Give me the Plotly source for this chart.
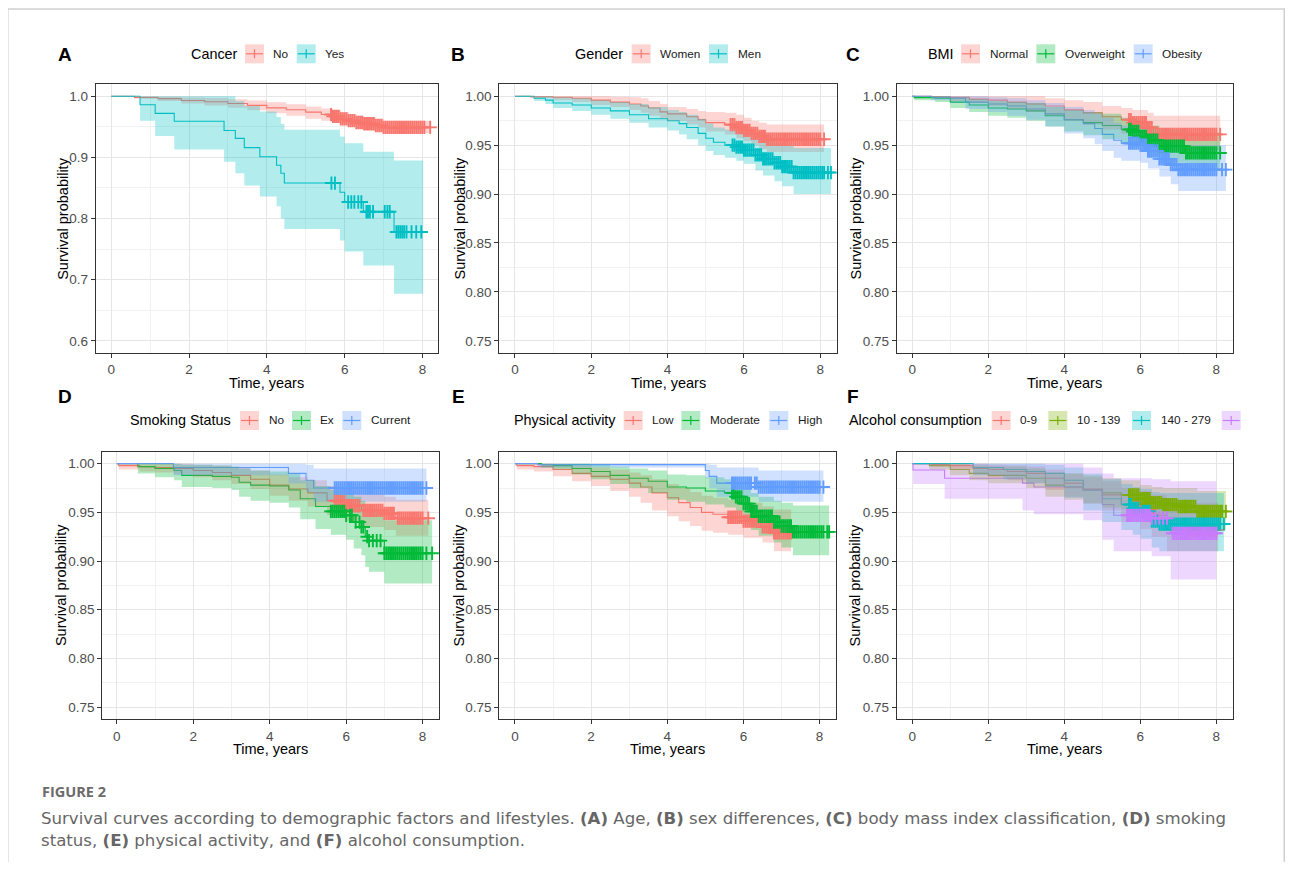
import plotly.graph_objects as go

W, H = 1293, 870          # browser window
OFF = 8                   # default page (body) margin around the figure
FW, FH = W - 2 * OFF, H - 2 * OFF

# ---------------- colours ----------------
RED, CYAN, GREEN, BLUE, OLIVE, PURPLE = "#F8766D", "#00BFC4", "#00BA38", "#619CFF", "#7CAE00", "#C77CFF"

# ---------------- tick labels ----------------
x_ticks = [0, 2, 4, 6, 8]
x_minor = [1, 3, 5, 7]
y_ticks_a = [0.6, 0.7, 0.8, 0.9, 1.0]
y_minor_a = [0.65, 0.75, 0.85, 0.95]
y_ticks = [0.75, 0.80, 0.85, 0.90, 0.95, 1.00]
y_minor = [0.775, 0.825, 0.875, 0.925, 0.975]

# ================= Panel A : Cancer =================
a_no_t  = [0, 0.6, 1.2, 1.8, 2.4, 3.0, 3.5, 4.0, 4.5, 5.0, 5.4, 5.7, 5.9, 6.1, 6.3, 6.5, 6.8, 7.0, 8.2]
a_no_s  = [1, 0.998, 0.996, 0.993, 0.991, 0.988, 0.985, 0.981, 0.978, 0.974, 0.970, 0.967, 0.963, 0.960, 0.957, 0.955, 0.952, 0.949, 0.949]
a_no_hi = [1, 1.0, 0.999, 0.998, 0.997, 0.995, 0.993, 0.990, 0.987, 0.983, 0.980, 0.977, 0.974, 0.971, 0.968, 0.966, 0.964, 0.960, 0.960]
a_no_lo = [1, 0.996, 0.992, 0.988, 0.985, 0.981, 0.977, 0.972, 0.968, 0.963, 0.960, 0.957, 0.953, 0.950, 0.947, 0.945, 0.942, 0.940, 0.940]
a_no_c  = [5.65, 5.7, 5.75, 5.8, 5.85, 5.9, 5.95, 6.0, 6.05, 6.1, 6.15, 6.2, 6.25, 6.3, 6.35, 6.4, 6.45, 6.5, 6.55, 6.6,
           6.65, 6.7, 6.75, 6.8, 6.85, 6.9, 6.95, 7.0, 7.05, 7.1, 7.15, 7.2, 7.25, 7.3, 7.35, 7.4, 7.45, 7.5, 7.55, 7.6,
           7.65, 7.7, 7.75, 7.8, 7.85, 7.9, 7.95, 8.0, 8.05, 8.2]

a_yes_t  = [0, 0.74, 1.13, 1.62, 2.90, 3.19, 3.42, 3.82, 4.25, 4.36, 4.45, 5.88, 6.00, 6.48, 7.27, 8.02]
a_yes_s  = [1, 0.986, 0.972, 0.959, 0.944, 0.931, 0.916, 0.901, 0.887, 0.874, 0.858, 0.843, 0.827, 0.811, 0.778, 0.778]
a_yes_hi = [1, 1.0, 1.0, 1.0, 1.0, 0.992, 0.984, 0.975, 0.966, 0.955, 0.945, 0.934, 0.923, 0.909, 0.895, 0.895]
a_yes_lo = [1, 0.960, 0.935, 0.913, 0.893, 0.874, 0.854, 0.836, 0.820, 0.800, 0.783, 0.764, 0.746, 0.723, 0.677, 0.677]
a_yes_c  = [5.66, 5.75, 6.09, 6.17, 6.25, 6.35, 6.43, 6.56, 6.6, 6.65, 6.73, 7.03, 7.1, 7.16, 7.33, 7.38, 7.43,
            7.48, 7.53, 7.59, 7.72, 7.84, 7.97]

# ================= Panel B : Gender =================
b_w_t  = [0, 0.4, 1.0, 1.5, 2.0, 2.5, 3.0, 3.3, 3.5, 3.8, 4.0, 4.5, 4.8, 5.0, 5.5, 5.8, 6.0, 6.2, 6.4, 6.6, 8.1]
b_w_s  = [1, 0.9995, 0.999, 0.998, 0.996, 0.994, 0.992, 0.990, 0.988, 0.984, 0.982, 0.979, 0.976, 0.973, 0.971, 0.968, 0.965, 0.962, 0.959, 0.956, 0.956]
b_w_hi = [1, 1, 1, 1, 1, 0.9995, 0.999, 0.998, 0.995, 0.992, 0.989, 0.987, 0.985, 0.984, 0.983, 0.981, 0.978, 0.975, 0.973, 0.971, 0.971]
b_w_lo = [1, 0.998, 0.996, 0.994, 0.991, 0.989, 0.986, 0.983, 0.980, 0.977, 0.975, 0.971, 0.968, 0.964, 0.961, 0.957, 0.954, 0.950, 0.946, 0.943, 0.943]
b_w_c  = [5.65, 5.7, 5.75, 5.8, 5.85, 5.9, 5.95, 6.0, 6.05, 6.1, 6.15, 6.2, 6.25, 6.3, 6.35, 6.4, 6.45, 6.5, 6.55, 6.6,
          6.65, 6.7, 6.75, 6.8, 6.85, 6.9, 6.95, 7.0, 7.05, 7.1, 7.15, 7.2, 7.25, 7.3, 7.35, 7.4, 7.45, 7.5, 7.55, 7.6,
          7.65, 7.7, 7.75, 7.8, 7.85, 7.9, 7.95, 8.0, 8.1]

b_m_t  = [0, 0.5, 0.8, 1.0, 1.5, 2.0, 2.5, 3.0, 3.5, 4.0, 4.3, 4.5, 4.8, 5.0, 5.2, 5.5, 5.8, 6.0, 6.3, 6.5, 6.8, 7.0, 7.3, 8.28]
b_m_s  = [1, 0.998, 0.996, 0.993, 0.991, 0.988, 0.985, 0.981, 0.977, 0.975, 0.972, 0.968, 0.962, 0.957, 0.953, 0.950, 0.948, 0.945, 0.940, 0.936, 0.932, 0.928, 0.922, 0.922]
b_m_hi = [1, 1, 1, 0.999, 0.998, 0.996, 0.994, 0.992, 0.989, 0.986, 0.984, 0.981, 0.977, 0.972, 0.968, 0.966, 0.964, 0.962, 0.958, 0.955, 0.952, 0.950, 0.947, 0.947]
b_m_lo = [1, 0.995, 0.992, 0.988, 0.985, 0.981, 0.977, 0.973, 0.968, 0.965, 0.961, 0.956, 0.950, 0.944, 0.940, 0.937, 0.934, 0.931, 0.924, 0.919, 0.913, 0.908, 0.900, 0.900]
b_m_c  = [5.7, 5.75, 5.8, 5.85, 5.9, 5.95, 6.0, 6.05, 6.1, 6.15, 6.2, 6.25, 6.3, 6.35, 6.4, 6.45, 6.5, 6.55, 6.6,
          6.65, 6.7, 6.75, 6.8, 6.85, 6.9, 6.95, 7.0, 7.05, 7.1, 7.15, 7.2, 7.25, 7.3, 7.35, 7.4, 7.45, 7.5, 7.55, 7.6,
          7.65, 7.7, 7.75, 7.8, 7.85, 7.9, 7.95, 8.0, 8.05, 8.1, 8.2, 8.28]

# ================= Panel C : BMI =================
c_n_t  = [0, 0.5, 1.0, 1.5, 2.0, 2.5, 3.0, 3.5, 4.0, 4.5, 5.0, 5.5, 5.8, 6.2, 6.35, 8.1]
c_n_s  = [1, 0.9995, 0.999, 0.997, 0.996, 0.994, 0.992, 0.990, 0.986, 0.983, 0.979, 0.976, 0.973, 0.968, 0.961, 0.961]
c_n_hi = [1, 1, 1, 1, 1, 1, 1, 0.998, 0.996, 0.994, 0.990, 0.988, 0.986, 0.983, 0.980, 0.980]
c_n_lo = [1, 0.998, 0.995, 0.993, 0.990, 0.987, 0.984, 0.980, 0.975, 0.971, 0.966, 0.962, 0.958, 0.952, 0.945, 0.945]
c_n_c  = [5.7, 5.75, 5.8, 5.85, 5.9, 5.95, 6.0, 6.05, 6.1, 6.15, 6.2, 6.25, 6.3, 6.4, 6.45, 6.5, 6.55, 6.6,
          6.65, 6.7, 6.75, 6.8, 6.85, 6.9, 6.95, 7.0, 7.05, 7.1, 7.15, 7.2, 7.25, 7.3, 7.35, 7.4, 7.45, 7.5, 7.55, 7.6,
          7.65, 7.7, 7.75, 7.8, 7.85, 7.9, 7.95, 8.0, 8.1]

c_o_t  = [0, 0.05, 0.6, 1.0, 1.5, 2.0, 2.5, 3.0, 3.5, 4.0, 4.5, 5.0, 5.5, 5.8, 6.0, 6.2, 6.5, 7.2, 8.1]
c_o_s  = [1, 0.9986, 0.998, 0.994, 0.991, 0.988, 0.987, 0.985, 0.980, 0.976, 0.973, 0.970, 0.966, 0.964, 0.959, 0.955, 0.949, 0.942, 0.942]
c_o_hi = [1, 1, 1, 0.999, 0.997, 0.995, 0.994, 0.993, 0.989, 0.986, 0.984, 0.982, 0.978, 0.976, 0.973, 0.970, 0.966, 0.963, 0.963]
c_o_lo = [1, 0.996, 0.994, 0.988, 0.984, 0.980, 0.978, 0.975, 0.969, 0.964, 0.960, 0.956, 0.951, 0.948, 0.943, 0.938, 0.932, 0.925, 0.925]
c_o_c  = [5.7, 5.75, 5.8, 5.85, 5.9, 5.95, 6.0, 6.05, 6.1, 6.15, 6.2, 6.25, 6.3, 6.35, 6.4, 6.45, 6.5, 6.55, 6.6,
          6.65, 6.7, 6.75, 6.8, 6.85, 6.9, 6.95, 7.0, 7.05, 7.1, 7.15, 7.2, 7.25, 7.3, 7.35, 7.4, 7.45, 7.5, 7.55, 7.6,
          7.65, 7.7, 7.75, 7.8, 7.85, 7.9, 7.95, 8.0, 8.1]

c_b_t  = [0, 0.5, 1.0, 1.4, 2.0, 2.5, 3.0, 3.5, 4.0, 4.5, 4.8, 5.0, 5.3, 5.5, 6.0, 6.2, 6.5, 6.8, 7.0, 8.25]
c_b_s  = [1, 0.999, 0.998, 0.994, 0.992, 0.990, 0.987, 0.982, 0.976, 0.972, 0.967, 0.961, 0.955, 0.952, 0.950, 0.944, 0.936, 0.930, 0.925, 0.925]
c_b_hi = [1, 1, 1, 1, 0.999, 0.998, 0.996, 0.993, 0.989, 0.986, 0.982, 0.978, 0.973, 0.970, 0.968, 0.963, 0.957, 0.953, 0.950, 0.950]
c_b_lo = [1, 0.996, 0.993, 0.987, 0.984, 0.980, 0.976, 0.969, 0.962, 0.957, 0.951, 0.944, 0.937, 0.934, 0.932, 0.926, 0.918, 0.910, 0.903, 0.903]
c_b_c  = [5.7, 5.75, 5.8, 5.85, 5.9, 5.95, 6.0, 6.05, 6.1, 6.15, 6.2, 6.25, 6.3, 6.35, 6.4, 6.45, 6.5, 6.55, 6.6,
          6.65, 6.7, 6.75, 6.8, 6.85, 6.9, 6.95, 7.0, 7.05, 7.1, 7.15, 7.2, 7.25, 7.3, 7.35, 7.4, 7.45, 7.5, 7.55, 7.6,
          7.65, 7.7, 7.75, 7.8, 7.85, 7.9, 7.95, 8.0, 8.15, 8.25]

# ================= Panel D : Smoking Status =================
d_n_t  = [0, 0.05, 0.6, 1.0, 1.5, 2.0, 2.5, 3.0, 3.5, 4.0, 4.5, 5.0, 5.5, 5.8, 6.0, 6.4, 7.0, 7.3, 8.15]
d_n_s  = [1, 0.998, 0.997, 0.996, 0.995, 0.993, 0.991, 0.988, 0.984, 0.978, 0.974, 0.970, 0.962, 0.961, 0.957, 0.952, 0.949, 0.944, 0.944]
d_n_hi = [1, 1, 1, 1, 1, 0.999, 0.998, 0.996, 0.993, 0.989, 0.986, 0.983, 0.977, 0.976, 0.973, 0.969, 0.966, 0.963, 0.963]
d_n_lo = [1, 0.994, 0.992, 0.991, 0.989, 0.986, 0.983, 0.979, 0.974, 0.967, 0.962, 0.956, 0.947, 0.945, 0.941, 0.935, 0.932, 0.926, 0.926]
d_n_c  = [5.7, 5.75, 5.8, 5.85, 5.9, 5.95, 6.0, 6.05, 6.1, 6.15, 6.2, 6.25, 6.3, 6.35, 6.45, 6.5, 6.55, 6.6,
          6.65, 6.7, 6.75, 6.8, 6.85, 6.9, 6.95, 7.0, 7.05, 7.1, 7.15, 7.2, 7.25, 7.35, 7.4, 7.45, 7.5, 7.55, 7.6,
          7.65, 7.7, 7.75, 7.8, 7.85, 7.9, 7.95, 8.0, 8.15]

d_e_t  = [0, 0.55, 1.0, 1.5, 1.7, 2.5, 3.0, 3.2, 3.5, 4.0, 4.5, 4.8, 5.2, 5.6, 6.0, 6.2, 6.4, 6.5, 6.6, 7.0, 8.25]
d_e_s  = [1, 0.997, 0.995, 0.993, 0.988, 0.987, 0.986, 0.981, 0.978, 0.977, 0.973, 0.964, 0.956, 0.951, 0.947, 0.940, 0.935, 0.925, 0.921, 0.908, 0.908]
d_e_hi = [1, 1, 1, 1, 0.999, 0.998, 0.997, 0.995, 0.993, 0.992, 0.990, 0.983, 0.977, 0.973, 0.970, 0.966, 0.962, 0.955, 0.952, 0.942, 0.942]
d_e_lo = [1, 0.990, 0.986, 0.983, 0.976, 0.975, 0.973, 0.966, 0.962, 0.960, 0.955, 0.943, 0.933, 0.927, 0.922, 0.913, 0.906, 0.894, 0.889, 0.877, 0.877]
d_e_c  = [5.6, 5.65, 5.7, 5.75, 5.8, 5.85, 5.9, 5.95, 6.0, 6.1, 6.15, 6.25, 6.35, 6.4, 6.45, 6.55, 6.6, 6.7, 6.8, 6.9,
          7.0, 7.05, 7.1, 7.15, 7.2, 7.25, 7.3, 7.35, 7.4, 7.45, 7.5, 7.55, 7.6, 7.65, 7.7, 7.75, 7.8, 7.85, 7.9,
          7.95, 8.0, 8.1, 8.25]

d_c_t  = [0, 1.48, 4.49, 4.95, 5.15, 8.1]
d_c_s  = [1, 0.996, 0.990, 0.983, 0.975, 0.975]
d_c_hi = [1, 1, 1, 0.999, 0.995, 0.995]
d_c_lo = [1, 0.988, 0.980, 0.971, 0.961, 0.961]
d_c_c  = [5.7, 5.75, 5.8, 5.85, 5.9, 5.95, 6.0, 6.05, 6.1, 6.15, 6.2, 6.25, 6.3, 6.35, 6.4, 6.45, 6.5, 6.55, 6.6,
          6.65, 6.7, 6.75, 6.8, 6.85, 6.9, 6.95, 7.0, 7.05, 7.1, 7.15, 7.2, 7.25, 7.3, 7.35, 7.4, 7.45, 7.5, 7.55, 7.6,
          7.65, 7.7, 7.75, 7.8, 7.85, 7.9, 7.95, 8.0, 8.1]

# ================= Panel E : Physical activity =================
e_l_t  = [0, 0.05, 0.5, 1.0, 1.5, 2.0, 2.5, 3.0, 3.3, 3.6, 4.0, 4.3, 4.6, 4.9, 5.2, 5.6, 6.0, 6.5, 6.8, 7.25]
e_l_s  = [1, 0.998, 0.997, 0.994, 0.990, 0.987, 0.984, 0.980, 0.976, 0.970, 0.965, 0.960, 0.955, 0.950, 0.948, 0.945, 0.941, 0.935, 0.929, 0.929]
e_l_hi = [1, 1, 1, 0.999, 0.998, 0.996, 0.994, 0.991, 0.988, 0.984, 0.979, 0.975, 0.971, 0.967, 0.965, 0.963, 0.960, 0.956, 0.953, 0.953]
e_l_lo = [1, 0.994, 0.992, 0.987, 0.982, 0.977, 0.972, 0.966, 0.960, 0.952, 0.946, 0.941, 0.936, 0.931, 0.929, 0.927, 0.924, 0.919, 0.910, 0.910]
e_l_c  = [5.6, 5.65, 5.7, 5.75, 5.8, 5.85, 5.9, 5.95, 6.0, 6.05, 6.1, 6.15, 6.2, 6.25, 6.3, 6.35, 6.4, 6.45, 6.5,
          6.55, 6.6, 6.65, 6.7, 6.75, 6.8, 6.85, 6.9, 6.95, 7.0, 7.05, 7.1, 7.15, 7.2, 7.25]

e_m_t  = [0, 0.7, 1.0, 1.5, 2.0, 2.5, 3.0, 3.5, 4.0, 4.5, 5.0, 5.5, 5.8, 6.0, 6.2, 6.4, 6.8, 7.0, 7.3, 8.25]
e_m_s  = [1, 0.999, 0.998, 0.995, 0.992, 0.988, 0.985, 0.982, 0.976, 0.975, 0.972, 0.970, 0.966, 0.959, 0.951, 0.946, 0.940, 0.936, 0.930, 0.930]
e_m_hi = [1, 1, 1, 1, 0.999, 0.997, 0.995, 0.993, 0.989, 0.988, 0.986, 0.984, 0.981, 0.976, 0.970, 0.966, 0.962, 0.960, 0.957, 0.957]
e_m_lo = [1, 0.996, 0.994, 0.989, 0.984, 0.979, 0.975, 0.970, 0.963, 0.961, 0.958, 0.955, 0.950, 0.942, 0.932, 0.926, 0.919, 0.914, 0.906, 0.906]
e_m_c  = [5.7, 5.75, 5.8, 5.85, 5.9, 5.95, 6.0, 6.05, 6.1, 6.15, 6.2, 6.25, 6.3, 6.35, 6.4, 6.45, 6.5, 6.55, 6.6,
          6.65, 6.7, 6.75, 6.8, 6.85, 6.9, 6.95, 7.0, 7.05, 7.1, 7.15, 7.2, 7.25, 7.3, 7.35, 7.4, 7.45, 7.5, 7.55, 7.6,
          7.65, 7.7, 7.75, 7.8, 7.85, 7.9, 7.95, 8.0, 8.05, 8.1, 8.2, 8.25]

e_h_t  = [0, 0.6, 5.0, 5.1, 5.3, 6.4, 8.1]
e_h_s  = [1, 0.999, 0.993, 0.987, 0.980, 0.976, 0.976]
e_h_hi = [1, 1, 1, 0.999, 0.996, 0.993, 0.993]
e_h_lo = [1, 0.996, 0.985, 0.975, 0.966, 0.961, 0.961]
e_h_c  = [5.7, 5.75, 5.8, 5.85, 5.9, 5.95, 6.0, 6.05, 6.1, 6.15, 6.2, 6.3, 6.35, 6.4, 6.45, 6.5, 6.55, 6.6,
          6.65, 6.7, 6.75, 6.8, 6.85, 6.9, 6.95, 7.0, 7.05, 7.1, 7.15, 7.2, 7.25, 7.3, 7.35, 7.4, 7.45, 7.5, 7.55, 7.6,
          7.65, 7.7, 7.75, 7.8, 7.85, 7.9, 7.95, 8.0, 8.1]

# ================= Panel F : Alcohol consumption =================
f_1_t  = [0, 0.5, 1.0, 1.6, 2.0, 2.5, 3.0, 3.5, 4.0, 4.5, 5.0, 5.5, 6.0, 6.3, 6.7, 8.05]
f_1_s  = [1, 0.999, 0.998, 0.995, 0.994, 0.992, 0.990, 0.985, 0.980, 0.974, 0.968, 0.958, 0.953, 0.947, 0.932, 0.932]
f_1_hi = [1, 1, 1, 1, 0.999, 0.998, 0.997, 0.994, 0.990, 0.986, 0.982, 0.975, 0.972, 0.968, 0.960, 0.960]
f_1_lo = [1, 0.997, 0.994, 0.989, 0.986, 0.983, 0.980, 0.973, 0.966, 0.959, 0.952, 0.940, 0.933, 0.925, 0.910, 0.910]
f_1_c  = [5.85, 5.9, 5.95, 6.0, 6.05, 6.1, 6.15, 6.2, 6.25, 6.3, 6.35, 7.2, 7.25, 7.3, 7.35, 7.4, 7.45, 7.5,
          7.55, 7.6, 7.65, 7.7, 7.75, 7.8, 7.85, 7.9, 7.95, 8.0]

f_2_t  = [0, 0.45, 1.0, 1.5, 2.0, 3.0, 3.5, 4.0, 4.5, 5.0, 5.5, 6.0, 6.3, 6.6, 7.0, 7.5, 8.25]
f_2_s  = [1, 0.998, 0.994, 0.990, 0.988, 0.985, 0.978, 0.976, 0.973, 0.970, 0.968, 0.964, 0.960, 0.958, 0.956, 0.951, 0.951]
f_2_hi = [1, 1, 1, 0.998, 0.997, 0.995, 0.991, 0.990, 0.988, 0.985, 0.983, 0.978, 0.976, 0.975, 0.975, 0.972, 0.972]
f_2_lo = [1, 0.994, 0.988, 0.983, 0.980, 0.975, 0.966, 0.963, 0.959, 0.955, 0.953, 0.948, 0.944, 0.941, 0.938, 0.932, 0.932]
f_2_c  = [5.7, 5.75, 5.8, 5.85, 5.9, 5.95, 6.0, 6.05, 6.1, 6.15, 6.2, 6.25, 6.3, 6.35, 6.4, 6.45, 6.5, 6.55, 6.6,
          6.65, 6.7, 6.75, 6.8, 6.85, 6.9, 6.95, 7.0, 7.05, 7.1, 7.15, 7.2, 7.25, 7.3, 7.35, 7.4, 7.45, 7.5, 7.55, 7.6,
          7.65, 7.7, 7.75, 7.8, 7.85, 7.9, 7.95, 8.0, 8.05, 8.1, 8.15, 8.25]

f_3_t  = [0, 1.6, 2.4, 3.0, 3.5, 4.0, 4.5, 5.0, 5.5, 5.8, 6.0, 6.3, 6.5, 8.2]
f_3_s  = [1, 0.996, 0.994, 0.992, 0.990, 0.983, 0.973, 0.964, 0.958, 0.954, 0.951, 0.941, 0.938, 0.938]
f_3_hi = [1, 1, 1, 1, 0.999, 0.996, 0.990, 0.984, 0.979, 0.976, 0.974, 0.971, 0.970, 0.970]
f_3_lo = [1, 0.988, 0.984, 0.980, 0.976, 0.965, 0.952, 0.940, 0.932, 0.927, 0.923, 0.914, 0.910, 0.910]
f_3_c  = [5.7, 5.75, 5.8, 5.85, 5.9, 5.95, 6.05, 6.1, 6.15, 6.2, 6.25, 6.3, 6.35, 6.4, 6.45, 6.5, 6.55, 6.6,
          6.65, 6.7, 6.75, 6.8, 6.85, 6.9, 6.95, 7.0, 7.05, 7.1, 7.15, 7.2, 7.25, 7.3, 7.35, 7.4, 7.45, 7.5, 7.55, 7.6,
          7.65, 7.7, 7.75, 7.8, 7.85, 7.9, 7.95, 8.0, 8.05, 8.1, 8.2]

f_4_t  = [0, 0.02, 0.85, 2.9, 3.2, 4.5, 5.0, 5.3, 6.3, 6.8, 8.0]
f_4_s  = [1, 0.9935, 0.985, 0.980, 0.976, 0.973, 0.958, 0.947, 0.944, 0.9285, 0.9285]
f_4_hi = [1, 1, 1, 1, 1, 0.996, 0.990, 0.985, 0.984, 0.982, 0.982]
f_4_lo = [1, 0.979, 0.964, 0.952, 0.948, 0.942, 0.922, 0.910, 0.905, 0.881, 0.881]
f_4_c  = [5.65, 5.7, 5.75, 5.8, 5.85, 5.9, 5.95, 6.0, 6.05, 6.1, 6.15, 6.2, 6.25, 6.3, 6.4, 6.5, 6.6, 6.7,
          6.85, 6.9, 6.95, 7.0, 7.05, 7.1, 7.15, 7.2, 7.25, 7.3, 7.35, 7.4, 7.45, 7.5, 7.55, 7.6,
          7.65, 7.7, 7.75, 7.8, 7.85, 7.9, 7.95, 8.0]

# ---------------- panel definitions (page pixel geometry) ----------------
panels = [
    dict(tag="A", tag_xy=(65.5, 54.3), title="Cancer", ticks=y_ticks_a, minor=y_minor_a, fmt=".1f",
         yr=(0.58, 1.02), xr=(-0.40, 8.40),
         box=(95.7, 438.0, 84.0, 353.0), ytitle_x=62.3, xtitle_y=382.7, leg_y=53.8,
         leg_title_x=190.0, leg_items=[(245.0, 272.0), (296.7, 324.0)],
         groups=[("No", RED, a_no_t, a_no_s, a_no_hi, a_no_lo, a_no_c),
                 ("Yes", CYAN, a_yes_t, a_yes_s, a_yes_hi, a_yes_lo, a_yes_c)]),
    dict(tag="B", tag_xy=(458.3, 54.3), title="Gender", ticks=y_ticks, minor=y_minor, fmt=".2f",
         yr=(0.7375, 1.0125), xr=(-0.41, 8.43),
         box=(499.3, 836.7, 84.0, 353.0), ytitle_x=459.0, xtitle_y=382.7, leg_y=53.8,
         leg_title_x=574.3, leg_items=[(631.7, 659.0), (709.0, 736.7)],
         groups=[("Women", RED, b_w_t, b_w_s, b_w_hi, b_w_lo, b_w_c),
                 ("Men", CYAN, b_m_t, b_m_s, b_m_hi, b_m_lo, b_m_c)]),
    dict(tag="C", tag_xy=(853.3, 54.3), title="BMI", ticks=y_ticks, minor=y_minor, fmt=".2f",
         yr=(0.7375, 1.0125), xr=(-0.41, 8.43),
         box=(896.7, 1232.7, 84.0, 353.0), ytitle_x=855.0, xtitle_y=382.7, leg_y=53.8,
         leg_title_x=926.7, leg_items=[(961.0, 988.7), (1036.3, 1063.7), (1133.7, 1161.0)],
         groups=[("Normal", RED, c_n_t, c_n_s, c_n_hi, c_n_lo, c_n_c),
                 ("Overweight", GREEN, c_o_t, c_o_s, c_o_hi, c_o_lo, c_o_c),
                 ("Obesity", BLUE, c_b_t, c_b_s, c_b_hi, c_b_lo, c_b_c)]),
    dict(tag="D", tag_xy=(65.5, 396.0), title="Smoking Status", ticks=y_ticks, minor=y_minor, fmt=".2f",
         yr=(0.7375, 1.0125), xr=(-0.38, 8.43),
         box=(102.3, 439.0, 451.5, 719.3), ytitle_x=61.7, xtitle_y=749.3, leg_y=420.5,
         leg_title_x=129.3, leg_items=[(240.0, 268.3), (292.0, 319.3), (342.3, 370.0)],
         groups=[("No", RED, d_n_t, d_n_s, d_n_hi, d_n_lo, d_n_c),
                 ("Ex", GREEN, d_e_t, d_e_s, d_e_hi, d_e_lo, d_e_c),
                 ("Current", BLUE, d_c_t, d_c_s, d_c_hi, d_c_lo, d_c_c)]),
    dict(tag="E", tag_xy=(458.3, 396.0), title="Physical activity", ticks=y_ticks, minor=y_minor, fmt=".2f",
         yr=(0.7375, 1.0125), xr=(-0.41, 8.43),
         box=(499.3, 836.0, 451.5, 719.3), ytitle_x=459.0, xtitle_y=749.3, leg_y=420.5,
         leg_title_x=513.3, leg_items=[(623.7, 651.0), (681.3, 709.0), (769.3, 796.7)],
         groups=[("Low", RED, e_l_t, e_l_s, e_l_hi, e_l_lo, e_l_c),
                 ("Moderate", GREEN, e_m_t, e_m_s, e_m_hi, e_m_lo, e_m_c),
                 ("High", BLUE, e_h_t, e_h_s, e_h_hi, e_h_lo, e_h_c)]),
    dict(tag="F", tag_xy=(853.3, 396.0), title="Alcohol consumption", ticks=y_ticks, minor=y_minor, fmt=".2f",
         yr=(0.7375, 1.0125), xr=(-0.41, 8.43),
         box=(896.7, 1232.7, 451.5, 719.3), ytitle_x=855.0, xtitle_y=749.3, leg_y=420.5,
         leg_title_x=848.3, leg_items=[(991.7, 1019.0), (1048.3, 1076.0), (1132.0, 1159.7), (1221.7, None)],
         groups=[("0-9", RED, f_1_t, f_1_s, f_1_hi, f_1_lo, f_1_c),
                 ("10 - 139", OLIVE, f_2_t, f_2_s, f_2_hi, f_2_lo, f_2_c),
                 ("140 - 279", CYAN, f_3_t, f_3_s, f_3_hi, f_3_lo, f_3_c),
                 ("", PURPLE, f_4_t, f_4_s, f_4_hi, f_4_lo, f_4_c)]),
]


def px(x):
    return (x - OFF) / FW


def py(y):
    return 1 - (y - OFF) / FH


def rgba(hx, a):
    hx = hx.lstrip("#")
    r, g, b = int(hx[0:2], 16), int(hx[2:4], 16), int(hx[4:6], 16)
    return f"rgba({r},{g},{b},{a})"


def step_at(ts, ss, t):
    v = ss[0]
    for tt, sv in zip(ts, ss):
        if tt <= t + 1e-9:
            v = sv
        else:
            break
    return v


FONT = "Liberation Sans, Arial, sans-serif"
fig = go.Figure()
annotations = []
shapes = []

for i, p in enumerate(panels, start=1):
    xa = "x" if i == 1 else f"x{i}"
    ya = "y" if i == 1 else f"y{i}"
    # 1) survival step lines
    for name, col, t, s, hi, lo, cen in p["groups"]:
        fig.add_trace(go.Scatter(x=t, y=s, mode="lines", line=dict(shape="hv", color=col, width=1.1),
                                 xaxis=xa, yaxis=ya, hoverinfo="skip", showlegend=False, name=name))
    # 2) confidence ribbons
    for name, col, t, s, hi, lo, cen in p["groups"]:
        fig.add_trace(go.Scatter(x=t, y=lo, mode="lines", line=dict(shape="hv", width=0, color=col),
                                 xaxis=xa, yaxis=ya, hoverinfo="skip", showlegend=False))
        fig.add_trace(go.Scatter(x=t, y=hi, mode="lines", line=dict(shape="hv", width=0, color=col),
                                 fill="tonexty", fillcolor=rgba(col, 0.3),
                                 xaxis=xa, yaxis=ya, hoverinfo="skip", showlegend=False))
    # 3) censor marks
    for name, col, t, s, hi, lo, cen in p["groups"]:
        cy = [step_at(t, s, c) for c in cen]
        fig.add_trace(go.Scatter(x=cen, y=cy, mode="markers",
                                 marker=dict(symbol="cross-thin", size=9.5, color=col,
                                             line=dict(color=col, width=1.9)),
                                 xaxis=xa, yaxis=ya, hoverinfo="skip", showlegend=False))

    x0, x1, y0, y1 = p["box"]
    axis_common = dict(showline=True, mirror=True, linecolor="#333333", linewidth=1,
                       ticks="outside", ticklen=4, tickwidth=1, tickcolor="#333333",
                       tickfont=dict(family=FONT, size=13.5, color="#4D4D4D"),
                       showgrid=True, gridcolor="#E6E6E6", gridwidth=1, zeroline=False)
    fig.update_layout(**{
        ("xaxis" if i == 1 else f"xaxis{i}"): dict(
            domain=[px(x0), px(x1)], anchor=ya, range=list(p["xr"]),
            tickvals=x_ticks, ticktext=[str(v) for v in x_ticks],
            minor=dict(tickvals=x_minor, showgrid=True, gridcolor="#F1F1F1", gridwidth=1, ticks=""),
            **axis_common),
        ("yaxis" if i == 1 else f"yaxis{i}"): dict(
            domain=[py(y1), py(y0)], anchor=xa, range=list(p["yr"]),
            tickvals=p["ticks"], tickformat=p["fmt"],
            minor=dict(tickvals=p["minor"], showgrid=True, gridcolor="#F1F1F1", gridwidth=1, ticks=""),
            **axis_common),
    })

    # panel letter
    tx, ty = p["tag_xy"]
    annotations.append(dict(x=px(tx), y=py(ty), xref="paper", yref="paper",
                            text=f"<b>{p['tag']}</b>", showarrow=False, xanchor="center", yanchor="middle",
                            font=dict(family=FONT, size=19, color="#000000")))
    # axis titles
    annotations.append(dict(x=px((x0 + x1) / 2), y=py(p["xtitle_y"]), xref="paper", yref="paper",
                            text="Time, years", showarrow=False, xanchor="center", yanchor="middle",
                            font=dict(family=FONT, size=14.5, color="#000000")))
    annotations.append(dict(x=px(p["ytitle_x"]), y=py((y0 + y1) / 2), xref="paper", yref="paper",
                            text="Survival probability", showarrow=False, textangle=-90,
                            xanchor="center", yanchor="middle",
                            font=dict(family=FONT, size=14.5, color="#000000")))
    # legend (ggplot style, above the panel)
    ly = p["leg_y"]
    annotations.append(dict(x=px(p["leg_title_x"] - 1), y=py(ly), xref="paper", yref="paper",
                            text=p["title"], showarrow=False, xanchor="left", yanchor="middle",
                            font=dict(family=FONT, size=14.4, color="#000000")))
    for (bx, lx), (name, col, *_rest) in zip(p["leg_items"], p["groups"]):
        shapes.append(dict(type="rect", xref="paper", yref="paper", x0=px(bx), x1=px(bx + 19),
                           y0=py(ly + 9.5), y1=py(ly - 9.5), fillcolor=rgba(col, 0.3), line=dict(width=0)))
        shapes.append(dict(type="line", xref="paper", yref="paper", x0=px(bx + 1), x1=px(bx + 18),
                           y0=py(ly), y1=py(ly), line=dict(color=col, width=1.2)))
        shapes.append(dict(type="line", xref="paper", yref="paper", x0=px(bx + 9.5), x1=px(bx + 9.5),
                           y0=py(ly - 4.5), y1=py(ly + 4.5), line=dict(color=col, width=1.2)))
        if lx is not None and name:
            annotations.append(dict(x=px(lx - 1), y=py(ly), xref="paper", yref="paper",
                                    text=name, showarrow=False, xanchor="left", yanchor="middle",
                                    font=dict(family=FONT, size=11.8, color="#1A1A1A")))

# caption
annotations.append(dict(x=px(39.5), y=py(791.7), xref="paper", yref="paper", text="<b>FIGURE 2</b>",
                        showarrow=False, xanchor="left", yanchor="middle",
                        font=dict(family="Open Sans, sans-serif", size=14.5, color="#6B6B6B")))
caption = ("Survival curves according to demographic factors and lifestyles. <b>(A)</b> Age, <b>(B)</b> sex differences, "
           "<b>(C)</b> body mass index classification, <b>(D)</b> smoking<br>status, <b>(E)</b> physical activity, "
           "and <b>(F)</b> alcohol consumption.")
annotations.append(dict(x=px(39), y=py(806.5), xref="paper", yref="paper", text=caption, align="left",
                        showarrow=False, xanchor="left", yanchor="top",
                        font=dict(family="DejaVu Sans, sans-serif", size=16.6, color="#666666")))

# outer page frame
shapes.append(dict(type="rect", xref="paper", yref="paper", x0=px(7.8), x1=px(1284.3), y0=-0.05, y1=py(9),
                   line=dict(color="#CFCFCF", width=1.5), fillcolor="rgba(0,0,0,0)", layer="below"))

fig.update_layout(width=FW, height=FH, margin=dict(l=0, r=0, t=0, b=0),
                  paper_bgcolor="white", plot_bgcolor="white", showlegend=False,
                  annotations=annotations, shapes=shapes)

fig.write_html("out.html")
